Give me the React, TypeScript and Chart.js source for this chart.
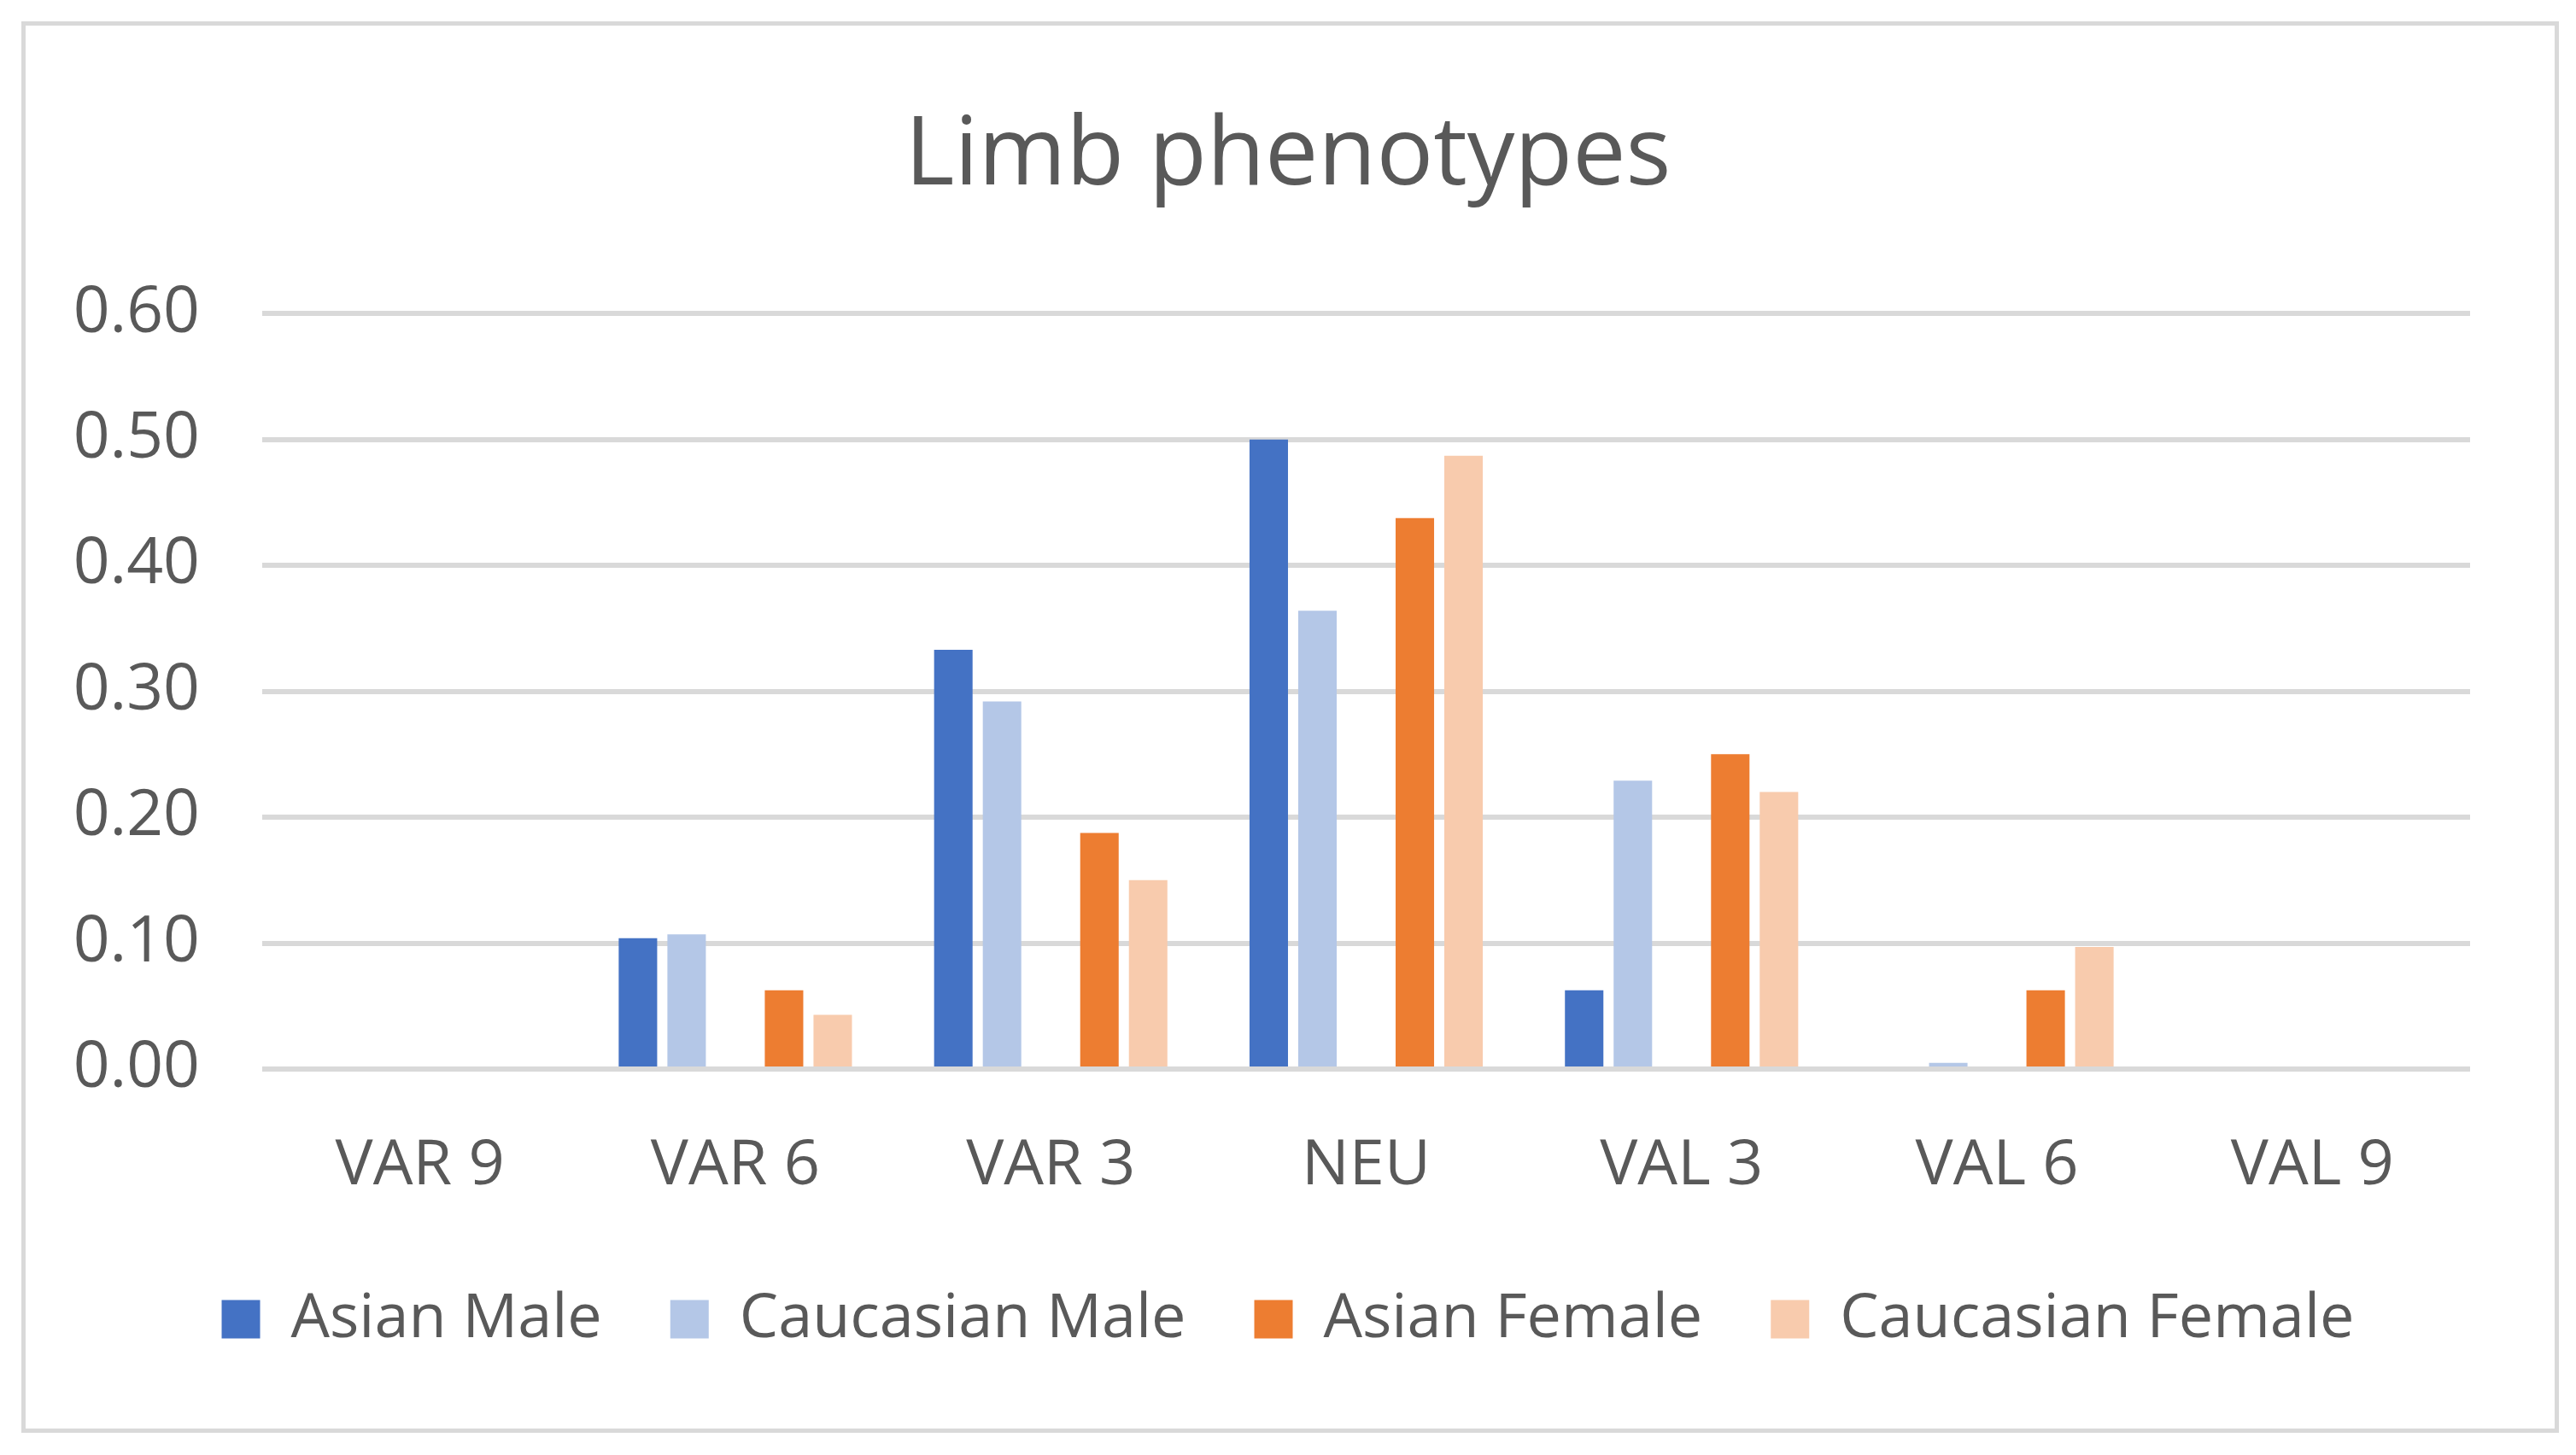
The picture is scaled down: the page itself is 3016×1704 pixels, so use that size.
import React, { useEffect, useRef } from "react";
import { Chart, registerables } from "chart.js";

Chart.register(...registerables);

const categories = ["VAR 9", "VAR 6", "VAR 3", "NEU", "VAL 3", "VAL 6", "VAL 9"];
const asianMale = [0, 0.104, 0.333, 0.5, 0.0625, 0, 0];
const caucasianMale = [0, 0.107, 0.292, 0.364, 0.229, 0.005, 0];
const emptySlot = [null, null, null, null, null, null, null];
const asianFemale = [0, 0.0625, 0.1875, 0.4375, 0.25, 0.0625, 0];
const caucasianFemale = [0, 0.043, 0.15, 0.487, 0.22, 0.097, 0];
const seriesNames = ["Asian Male", "Caucasian Male", "", "Asian Female", "Caucasian Female"];
const seriesColors = ["#4472C4", "#B4C7E7", "rgba(0,0,0,0)", "#ED7D31", "#F8CBAD"];
const titleText = "Limb phenotypes";
const yMin = 0;
const yMax = 0.6;
const yStep = 0.1;

const W = 3016;
const H = 1704;
const FONT = "'Open Sans', 'DejaVu Sans', sans-serif";
const TEXT = "#595959";
const SIDE = 60;
const PLOT_LEFT = 307;
const PLOT_RIGHT = 2892;

const framePlugin = {
  id: "frame",
  beforeDraw(chart: any) {
    const { ctx, width, height } = chart;
    ctx.save();
    ctx.fillStyle = "#ffffff";
    ctx.fillRect(0, 0, width, height);
    ctx.strokeStyle = "#D9D9D9";
    ctx.lineWidth = 5;
    ctx.strokeRect(27.5, 27.5, 2966, 1648);
    ctx.restore();
  },
};

export default function App() {
  const ref = useRef<HTMLCanvasElement | null>(null);

  useEffect(() => {
    const canvas = ref.current;
    if (!canvas) return;
    const all = [asianMale, caucasianMale, emptySlot, asianFemale, caucasianFemale];
    const chart = new Chart(canvas, {
      type: "bar",
      data: {
        labels: categories,
        datasets: all.map((d, i) => ({
          label: seriesNames[i],
          data: d as any,
          backgroundColor: seriesColors[i],
          borderWidth: 0,
          categoryPercentage: 0.772,
          barPercentage: 0.79,
        })),
      },
      options: {
        responsive: false,
        devicePixelRatio: 1,
        animation: false,
        layout: { padding: { left: SIDE, right: SIDE, top: 0, bottom: 113 } },
        plugins: {
          title: {
            display: true,
            text: titleText,
            color: TEXT,
            font: { family: FONT, size: 111, weight: "normal" },
            padding: { top: 118, bottom: 116 },
          },
          legend: {
            position: "bottom",
            labels: {
              color: TEXT,
              font: { family: FONT, size: 72 },
              boxWidth: 45,
              boxHeight: 45,
              padding: 80,
              filter: (item: any) => item.text !== "",
            },
          },
          tooltip: { enabled: false },
        },
        scales: {
          x: {
            grid: { display: false, drawTicks: false },
            border: { display: false },
            ticks: { color: TEXT, font: { family: FONT, size: 74 }, padding: 70 },
            afterFit: (scale: any) => {
              scale.height = 177;
            },
          },
          y: {
            min: yMin,
            max: yMax,
            grid: { color: "#D9D9D9", lineWidth: 6, drawTicks: false },
            border: { display: false },
            ticks: {
              stepSize: yStep,
              color: TEXT,
              font: { family: FONT, size: 75 },
              padding: 73,
              callback: (v: any) => Number(v).toFixed(2),
            },
            afterFit: (scale: any) => {
              scale.width = PLOT_LEFT - SIDE;
            },
          },
          yRightSpace: {
            position: "right",
            min: yMin,
            max: yMax,
            grid: { display: false, drawTicks: false },
            border: { display: false },
            ticks: { display: false },
            afterFit: (scale: any) => {
              scale.width = W - SIDE - PLOT_RIGHT;
            },
          },
        },
      },
      plugins: [framePlugin],
    });
    return () => chart.destroy();
  }, []);

  return (
    <div style={{ position: "fixed", left: 0, top: 0, width: W, height: H, background: "#fff" }}>
      <canvas ref={ref} width={W} height={H} style={{ display: "block", width: W, height: H }} />
    </div>
  );
}
